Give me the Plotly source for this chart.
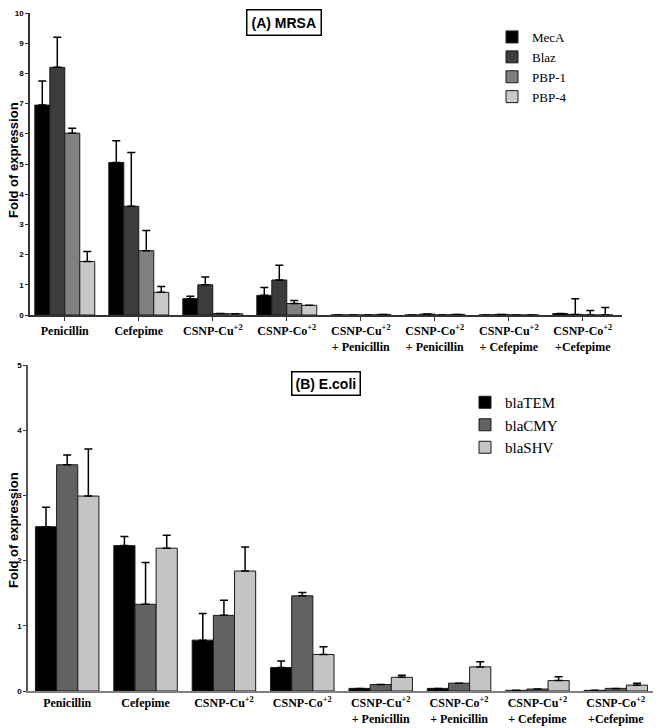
import plotly.graph_objects as go

categories = [
    "Penicillin", "Cefepime", "CSNP-Cu<sup>+2</sup>", "CSNP-Co<sup>+2</sup>",
    "CSNP-Cu<sup>+2</sup><br>+ Penicillin", "CSNP-Co<sup>+2</sup><br>+ Penicillin",
    "CSNP-Cu<sup>+2</sup><br>+ Cefepime", "CSNP-Co<sup>+2</sup><br>+Cefepime",
]

# Panel A: MRSA
mrsa_genes = ["MecA", "Blaz", "PBP-1", "PBP-4"]
mrsa_vals = {
    "MecA":  [6.95, 5.05, 0.54, 0.65, 0.00, 0.00, 0.00, 0.05],
    "Blaz":  [8.20, 3.60, 1.00, 1.16, 0.00, 0.03, 0.02, 0.02],
    "PBP-1": [6.02, 2.13, 0.05, 0.38, 0.00, 0.00, 0.00, 0.00],
    "PBP-4": [1.77, 0.75, 0.04, 0.32, 0.02, 0.02, 0.00, 0.00],
}
mrsa_err = {
    "MecA":  [0.80, 0.72, 0.08, 0.26, 0.00, 0.00, 0.00, 0.00],
    "Blaz":  [1.00, 1.78, 0.26, 0.49, 0.00, 0.00, 0.00, 0.52],
    "PBP-1": [0.16, 0.67, 0.00, 0.10, 0.00, 0.00, 0.00, 0.15],
    "PBP-4": [0.33, 0.19, 0.00, 0.00, 0.00, 0.00, 0.00, 0.25],
}
mrsa_colors = ["#000000", "#3c3c3c", "#808080", "#c8c8c8"]

# Panel B: E.coli
ecoli_genes = ["blaTEM", "blaCMY", "blaSHV"]
ecoli_vals = {
    "blaTEM": [2.52, 2.23, 0.78, 0.36, 0.04, 0.04, 0.01, 0.01],
    "blaCMY": [3.47, 1.33, 1.16, 1.46, 0.10, 0.12, 0.03, 0.04],
    "blaSHV": [2.99, 2.19, 1.84, 0.56, 0.21, 0.37, 0.16, 0.09],
}
ecoli_err = {
    "blaTEM": [0.30, 0.14, 0.41, 0.10, 0.00, 0.00, 0.00, 0.00],
    "blaCMY": [0.15, 0.64, 0.23, 0.05, 0.00, 0.00, 0.00, 0.00],
    "blaSHV": [0.72, 0.20, 0.37, 0.12, 0.03, 0.08, 0.06, 0.03],
}
ecoli_colors = ["#000000", "#626262", "#c4c4c4"]

fig = go.Figure()

for g, c in zip(mrsa_genes, mrsa_colors):
    fig.add_trace(go.Bar(
        x=categories, y=mrsa_vals[g], name=g, xaxis="x", yaxis="y", legend="legend",
        marker=dict(color=c, line=dict(color="#1a1a1a", width=1)),
        error_y=dict(type="data", symmetric=False, array=mrsa_err[g],
                     arrayminus=[0] * len(categories), color="#000", thickness=1.5, width=4),
    ))

for g, c in zip(ecoli_genes, ecoli_colors):
    fig.add_trace(go.Bar(
        x=categories, y=ecoli_vals[g], name=g, xaxis="x2", yaxis="y2", legend="legend2",
        marker=dict(color=c, line=dict(color="#1a1a1a", width=1)),
        error_y=dict(type="data", symmetric=False, array=ecoli_err[g],
                     arrayminus=[0] * len(categories), color="#000", thickness=1.5, width=4),
    ))

# page body has an 8px margin; positions below are given in window pixels
OFF = 8
W, H = 661 - OFF, 728 - OFF


def px(x):
    return min(max((x - OFF) / W, 0), 1)


def py(y):
    return min(max(1 - (y - OFF) / H, 0), 1)


tickfont_x = dict(family="Liberation Serif", size=12, color="#000", weight="bold")
tickfont_y = dict(family="Liberation Sans", size=8, color="#000", weight="bold")
title_font = dict(family="Liberation Sans", size=13, color="#000", weight="bold")

fig.update_layout(
    width=W, height=H,
    margin=dict(l=0, r=0, t=0, b=0, autoexpand=False),
    paper_bgcolor="white", plot_bgcolor="white",
    barmode="group", bargap=0.19, bargroupgap=0,
    showlegend=True,
    xaxis=dict(domain=[px(30), px(622)], anchor="y", type="category", automargin=False,
               range=[-0.47, 7.53], tickfont=tickfont_x, ticks="outside", ticklen=4,
               tickcolor="#333", showline=True, linecolor="#333", linewidth=1.5,
               showgrid=False, tickangle=0),
    yaxis=dict(domain=[py(315), py(13)], anchor="x", range=[0, 10], dtick=1, automargin=False,
               tickfont=tickfont_y, ticks="outside", ticklen=3, tickcolor="#333",
               showline=True, linecolor="#333", linewidth=1.5, showgrid=False,
               zeroline=False),
    xaxis2=dict(domain=[px(28), px(655)], anchor="y2", type="category", automargin=False,
                range=[-0.5, 7.5], tickfont=tickfont_x, ticks="",
                showline=True, linecolor="#808080", linewidth=1.5, showgrid=False, tickangle=0),
    yaxis2=dict(domain=[py(691), py(365)], anchor="x2", range=[0, 5], dtick=1, automargin=False,
                tickfont=tickfont_y, ticks="outside", ticklen=3, tickcolor="#333",
                showline=True, linecolor="#555", linewidth=1.5, showgrid=False,
                zeroline=False),
    legend=dict(x=px(492), y=py(22), xanchor="left", yanchor="top",
                font=dict(family="Liberation Serif", size=13, color="#000"),
                bgcolor="rgba(0,0,0,0)", tracegroupgap=0, itemwidth=30),
    legend2=dict(x=px(465), y=py(386), xanchor="left", yanchor="top",
                 font=dict(family="Liberation Serif", size=15, color="#000"),
                 bgcolor="rgba(0,0,0,0)", tracegroupgap=0, itemwidth=30),
    annotations=[
        dict(text="(A) MRSA", x=px(284), y=py(22), xref="paper", yref="paper",
             xanchor="center", yanchor="middle",
             showarrow=False, font=dict(family="Liberation Sans", size=14, color="#000", weight="bold"),
             bordercolor="#000", borderwidth=1.5, borderpad=4, bgcolor="white"),
        dict(text="(B) E.coli", x=px(326), y=py(383), xref="paper", yref="paper",
             xanchor="center", yanchor="middle",
             showarrow=False, font=dict(family="Liberation Sans", size=14, color="#000", weight="bold"),
             bordercolor="#000", borderwidth=1.5, borderpad=3, bgcolor="white"),
        dict(text="Fold of expression", x=px(13), y=py(160), xref="paper", yref="paper",
             xanchor="center", yanchor="middle", textangle=-90, showarrow=False,
             borderpad=0, font=title_font),
        dict(text="Fold of expression", x=px(13), y=py(530), xref="paper", yref="paper",
             xanchor="center", yanchor="middle", textangle=-90, showarrow=False,
             borderpad=0, font=title_font),
    ],
)

fig.write_html("out.html")
